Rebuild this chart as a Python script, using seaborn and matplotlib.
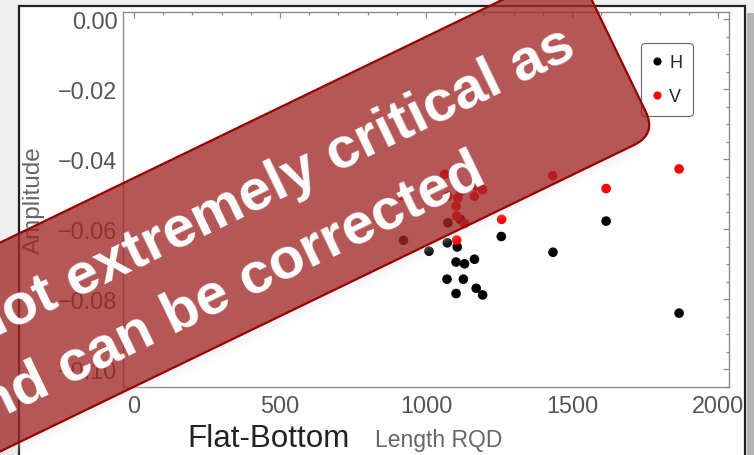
import numpy as np
import pandas as pd
import seaborn as sns
import matplotlib
matplotlib.use("Agg")
import matplotlib.pyplot as plt
import matplotlib.ticker as mticker
from matplotlib.patches import FancyBboxPatch, Rectangle, Polygon
from matplotlib.transforms import Affine2D, IdentityTransform

# Flat-bottom hole amplitudes against length (RQD), horizontal and vertical sets
h_length = [1107, 1103, 1132, 1166, 1072, 1128, 1172, 1103, 1194, 1258,
            1435, 1617, 1867, 1010, 1073, 923, 1075, 1118]
h_amp = [-0.0650, -0.0693, -0.0698, -0.0685, -0.0742, -0.0742, -0.0768, -0.0783,
         -0.0787, -0.0620, -0.0665, -0.0576, -0.0839, -0.0662, -0.0638, -0.0631,
         -0.0581, -0.0571]

v_length = [1434, 1194, 1172, 1166, 1120, 1109, 1075, 1103, 1105, 1132,
            1259, 1105, 1617, 1867, 917, 1064]
v_amp = [-0.0446, -0.0486, -0.0476, -0.0505, -0.0490, -0.0510, -0.0505, -0.0533,
         -0.0562, -0.0583, -0.0571, -0.0630, -0.0483, -0.0427, -0.0503, -0.0442]

groups = ["H", "V"]
x_ticks = [0, 500, 1000, 1500, 2000]
y_ticks = [0.00, -0.02, -0.04, -0.06, -0.08, -0.10]

note_lines = ["not extremely critical as", "and can be corrected"]

df = pd.DataFrame({
    "Length RQD": h_length + v_length,
    "Amplitude": h_amp + v_amp,
    "Set": [groups[0]] * len(h_length) + [groups[1]] * len(v_length),
})

sns.set_style("white")
plt.rcParams["font.family"] = ["Liberation Sans", "DejaVu Sans"]

W, H = 754, 456
fig = plt.figure(figsize=(W / 100, H / 100), dpi=100)
fig.patch.set_facecolor("#efefef")

# notebook cell panel
fig.add_artist(Rectangle((19 / W, -0.02), (745 - 19) / W, 1 - 6.5 / H + 0.02,
                         transform=fig.transFigure, facecolor="white",
                         edgecolor="#222222", linewidth=1.6, zorder=-5))
fig.add_artist(Rectangle((747 / W, 0), 7 / W, 1 - 14 / H,
                         transform=fig.transFigure, facecolor="#b4b4b4",
                         edgecolor="none", zorder=-5))

ax = fig.add_axes([123 / W, 1 - 388 / H, (729 - 123) / W, (388 - 13) / H])
ax.set_facecolor("white")

sns.scatterplot(data=df, x="Length RQD", y="Amplitude", hue="Set",
                palette={"H": "black", "V": "#ff0000"}, s=48, linewidth=0,
                ax=ax, zorder=3)

ax.set_xlim(-38, 2038)
ax.set_ylim(-0.1050, 0.00214)

ax.xaxis.set_major_locator(mticker.FixedLocator(x_ticks))
ax.xaxis.set_minor_locator(mticker.MultipleLocator(100))
ax.yaxis.set_major_locator(mticker.FixedLocator(y_ticks))
ax.yaxis.set_minor_locator(mticker.MultipleLocator(0.005))


def amp_fmt(v, _):
    s = f"{v:.2f}"
    if s in ("-0.00", "0.00"):
        return "0.00"
    return s.replace("-", "\u2212")


ax.yaxis.set_major_formatter(mticker.FuncFormatter(amp_fmt))
ax.xaxis.set_major_formatter(mticker.FuncFormatter(lambda v, _: f"{v:.0f}"))

ax.tick_params(which="both", direction="in", top=True, right=True,
               color="#8a8a8a", width=0.9)
ax.tick_params(which="major", length=4.5, labelsize=16.8, labelcolor="#555555")
ax.tick_params(axis="y", which="major", pad=4)
ax.tick_params(axis="x", which="major", pad=5)
ax.tick_params(which="minor", length=2.5)
for sp in ax.spines.values():
    sp.set_color("#8a8a8a")
    sp.set_linewidth(1.0)

ax.set_xlabel("")
ax.set_ylabel("")

handles, labels = ax.get_legend_handles_labels()
leg = ax.legend(handles, labels, loc="upper right",
                bbox_to_anchor=((693 - 123) / 606, (388 - 44) / 375),
                borderaxespad=0, frameon=True, fancybox=True, fontsize=13,
                handlelength=0.5, handletextpad=0.45, borderpad=0.6,
                labelspacing=0.95, markerscale=0.85, framealpha=1)
leg.get_frame().set_edgecolor("#666666")
leg.get_frame().set_linewidth(0.8)

fig.text(34 / W, 1 - 200 / H, "Amplitude", rotation=90, ha="center",
         va="center", fontsize=17.5, color="#666666")
fig.text(187 / W, 1 - 447 / H, "Flat-Bottom", ha="left", va="baseline",
         fontsize=22.6, color="#222222")
fig.text(375 / W, 1 - 447 / H, "Length RQD", ha="left", va="baseline",
         fontsize=16.5, color="#666666")

# diagonal note banner, drawn in pixel space
ang = 25.8
t = np.deg2rad(ang)
eu = np.array([np.cos(t), np.sin(t)])
ev = np.array([-np.sin(t), np.cos(t)])
origin = np.array([656.6, 320.9])
band_w = 188
band_len = 1100
frame = Affine2D().rotate_deg(ang).translate(*origin)

# soft shadow under the lower edge
for k in range(12):
    a = 0.42 * (1 - k / 12) ** 1.3
    strip = Polygon([(-band_len, -k - 1), (-22, -k - 1), (-22, -k), (-band_len, -k)],
                    closed=True, facecolor=(0.87, 0.87, 0.87, a), edgecolor="none",
                    transform=frame, zorder=9)
    fig.add_artist(strip)

band = FancyBboxPatch((-band_len, 0), band_len, band_w,
                      boxstyle="round,pad=0,rounding_size=25",
                      facecolor=(160 / 255, 40 / 255, 40 / 255, 0.78),
                      edgecolor="#990000", linewidth=1.6,
                      transform=frame, zorder=10)
fig.add_artist(band)


def at(u, v):
    return origin + u * eu + v * ev


for line, (u, v) in zip(note_lines, [(-36, 106), (-172, 31)]):
    px, py = at(u, v)
    fig.text(px, py, line, transform=IdentityTransform(), rotation=ang,
             rotation_mode="anchor", ha="right", va="baseline",
             fontsize=42, fontweight="bold", color="white", zorder=11)

fig.savefig("out.png", dpi=100, facecolor=fig.get_facecolor())
